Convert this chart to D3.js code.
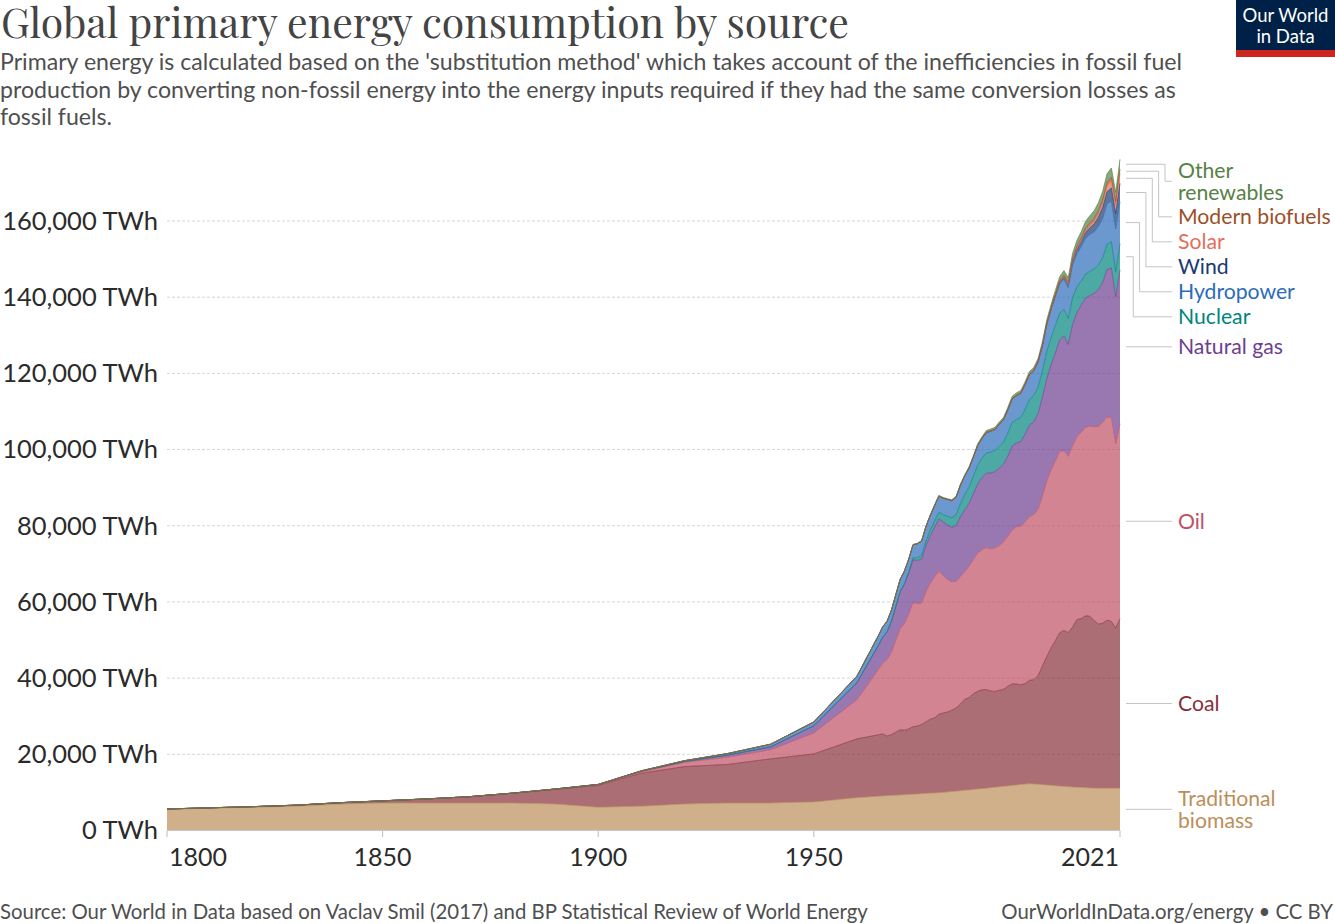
<!DOCTYPE html>
<html><head><meta charset="utf-8">
<script src="https://cdn.jsdelivr.net/npm/d3@7"></script>
<style>body{margin:0;background:#fff}svg{display:block}</style>
</head><body>
<svg id="chart" width="1335" height="924"></svg>
<script>
// ---------- DATA (TWh, substitution method) ----------
const years = [1800,1810,1820,1830,1840,1850,1860,1870,1880,1890,1900,1910,1920,1930,1940,1950,1960,
  1965,1966,1967,1968,1969,1970,1971,1972,1973,1974,1975,1976,1977,1978,1979,
  1980,1981,1982,1983,1984,1985,1986,1987,1988,1989,
  1990,1991,1992,1993,1994,1995,1996,1997,1998,1999,
  2000,2001,2002,2003,2004,2005,2006,2007,2008,2009,
  2010,2011,2012,2013,2014,2015,2016,2017,2018,2019,2020,2021];

const traditionalBiomass = [5556,5833,6111,6389,6944,7222,7222,7222,7222,6944,6111,6389,6944,7222,7222,7500,8611,
  9000,9070,9130,9200,9260,9330,9400,9460,9530,9600,9660,9730,9800,9860,9930,
  10000,10110,10220,10330,10440,10550,10660,10770,10880,10990,
  11100,11220,11340,11460,11580,11700,11820,11940,12060,12180,
  12300,12210,12120,12030,11940,11850,11760,11670,11580,11490,
  11400,11340,11280,11230,11170,11111,11111,11111,11111,11111,11111,11111];

const coal = [97,128,153,264,356,569,1061,1642,2542,3856,5728,8656,9833,10125,11586,12603,15442,
  16140,16280,15690,15970,16530,17110,16940,17190,17720,17800,18190,18780,19420,19720,20580,
  20860,21000,21360,21860,22750,23890,24220,25140,25670,25970,
  25890,25420,25170,25360,25500,26190,26690,26530,26170,26390,
  27110,27390,28500,31140,33640,36080,38060,40220,40940,40440,
  42000,44030,44330,45140,45080,44000,43060,43330,44110,43780,42060,44470];

const oil = [0,0,0,0,0,0,0,6,33,89,181,380,1100,1900,2400,5500,10300,
  17200,18600,20000,21700,24100,26500,28000,30100,32600,32100,31900,34200,35700,37000,37600,
  36100,34800,33700,33200,33500,33500,34500,35200,36300,36800,
  37300,37300,37700,38000,38700,39400,40400,41300,41600,42500,
  43000,43300,43700,44600,46100,46700,47200,47600,47200,46300,
  47600,48100,48900,49500,49900,50900,51900,52700,53300,53500,48400,51200];

const naturalGas = [0,0,0,0,0,0,0,0,0,0,64,142,250,550,750,1900,4469,
  6300,6800,7300,8000,8800,9600,10200,10700,11200,11400,11500,12100,12500,13000,13700,
  14000,14300,14300,14600,15700,16200,16500,17300,18100,18900,
  19500,19900,20000,20300,20400,21000,22000,21900,22300,23000,
  24000,24400,25100,25900,26900,27600,28300,29300,30100,29400,
  31900,32500,33400,33900,34300,35000,35900,36800,38700,39300,38500,40400];

const nuclear = [0,0,0,0,0,0,0,0,0,0,0,0,0,0,0,0,0,
  70,95,110,140,170,220,300,400,540,700,1000,1180,1420,1650,1720,
  1950,2300,2500,2850,3450,4050,4300,4620,4980,5100,
  5300,5500,5550,5720,5850,6050,6250,6200,6300,6550,
  6700,6900,6950,6850,7100,7100,7200,7000,6950,6850,
  7000,6700,6250,6250,6350,6400,6450,6500,6650,6900,6650,6900];

const hydropower = [0,0,0,0,0,0,0,0,0,0,20,100,200,400,700,1000,1700,
  2500,2650,2720,2830,2980,3100,3220,3330,3400,3680,3740,3790,3850,4080,4250,
  4320,4380,4500,4680,4800,4900,4960,5010,5180,5180,
  5350,5470,5470,5750,5800,6080,6150,6270,6330,6400,
  6520,6420,6540,6600,7000,7290,7580,7650,7950,8020,
  8540,8720,9070,9420,9660,9730,10140,10320,10670,10560,11150,11000];

const wind = [0,0,0,0,0,0,0,0,0,0,0,0,0,0,0,0,0,
  0,0,0,0,0,0,0,0,0,0,0,0,0,0,0,
  0,0,0,0,0,0,0,0,0,0,
  10,12,15,18,21,25,30,35,45,60,
  85,105,140,170,220,280,350,450,580,730,
  900,1150,1350,1600,1750,2100,2450,2850,3150,3500,4050,4800];

const solar = [0,0,0,0,0,0,0,0,0,0,0,0,0,0,0,0,0,
  0,0,0,0,0,0,0,0,0,0,0,0,0,0,0,
  0,0,0,0,0,0,0,0,0,0,
  1,1,1,1,1,2,2,2,2,2,
  3,4,5,7,8,11,15,20,33,50,
  85,170,260,360,500,650,840,1130,1450,1780,2150,2650];

const modernBiofuels = [0,0,0,0,0,0,0,0,0,0,0,0,0,0,0,0,0,
  0,0,0,0,0,0,0,0,0,0,0,0,0,0,0,
  0,0,0,0,0,0,0,0,0,0,
  80,85,85,90,95,100,100,105,105,105,
  110,120,140,165,190,225,320,410,530,600,
  690,700,700,760,830,880,900,950,1040,1100,1000,1060];

const otherRenewables = [0,0,0,0,0,0,0,0,0,0,0,0,0,0,0,0,0,
  60,65,70,75,80,90,100,110,120,130,140,150,165,180,190,
  200,220,240,260,290,320,340,360,390,420,
  460,480,500,510,530,560,580,600,620,640,
  670,690,720,760,820,890,950,1030,1120,1230,
  1380,1500,1620,1730,1850,1950,2050,2150,2250,2350,2450,2600];

const seriesNames = ["Traditional biomass","Coal","Oil","Natural gas","Nuclear","Hydropower","Wind","Solar","Modern biofuels","Other renewables"];
const seriesValues = [traditionalBiomass,coal,oil,naturalGas,nuclear,hydropower,wind,solar,modernBiofuels,otherRenewables];
const seriesColors = ["#BC8E5A","#883039","#C15065","#6D3E91","#00847E","#2C6CBB","#1B3A6E","#E56E5A","#9A5129","#578145"];
const labelLines = {"Other renewables":["Other","renewables"],"Traditional biomass":["Traditional","biomass"]};

const xTicks = [1800,1850,1900,1950,2021];
const yTicks = [0,20000,40000,60000,80000,100000,120000,140000,160000];

const title = "Global primary energy consumption by source";
const subtitle = ["Primary energy is calculated based on the 'substitution method' which takes account of the inefficiencies in fossil fuel",
  "production by converting non-fossil energy into the energy inputs required if they had the same conversion losses as",
  "fossil fuels."];
const sourceText = "Source: Our World in Data based on Vaclav Smil (2017) and BP Statistical Review of World Energy";
const licenseText = "OurWorldInData.org/energy • CC BY";

// ---------- LAYOUT ----------
const svg = d3.select("#chart");
const font = "Lato, 'Noto Sans', sans-serif";
const left = 167, right = 1120;
const x = d3.scaleLinear().domain([1800,2021]).range([left,right]);
const y = d3.scaleLinear().domain([0,160000]).range([830.5,221]);

function fit(sel, target){
  const w = sel.node().getComputedTextLength();
  const fs = parseFloat(sel.attr("font-size"));
  sel.attr("font-size", fs*target/w);
}

// Title + subtitle
svg.append("text").attr("x",1).attr("y",38).attr("font-family","'Playfair Display', 'Liberation Serif', 'DejaVu Serif', serif")
  .attr("font-size",42).attr("fill","#444").attr("textLength",848).attr("lengthAdjust","spacingAndGlyphs").text(title);
const subSel = subtitle.map((s,i)=> svg.append("text").attr("x",0).attr("y",70+i*27.5)
  .attr("font-family",font).attr("font-size",20).attr("fill","#4f4f4f").text(s));
const subW = subSel[0].node().getComputedTextLength();
const subFs = 20*1183/subW;
subSel.forEach(s=>s.attr("font-size",subFs));

// Logo
const logo = svg.append("g");
logo.append("rect").attr("x",1236).attr("y",0).attr("width",99).attr("height",57).attr("fill","#002147");
logo.append("rect").attr("x",1236).attr("y",50).attr("width",99).attr("height",7).attr("fill","#CE261E");
logo.append("text").attr("x",1285.5).attr("y",22).attr("text-anchor","middle").attr("font-family",font)
  .attr("font-size",18.5).attr("fill","#fff").text("Our World");
logo.append("text").attr("x",1285.5).attr("y",43).attr("text-anchor","middle").attr("font-family",font)
  .attr("font-size",18.5).attr("fill","#fff").text("in Data");

// Gridlines + y labels
const gy = svg.append("g");
yTicks.forEach(v=>{
  if(v>0){
    gy.append("line").attr("x1",left).attr("x2",right).attr("y1",y(v)).attr("y2",y(v))
      .attr("stroke","#d6d6d6").attr("stroke-width",1).attr("stroke-dasharray","3,2");
  }
  gy.append("text").attr("x",158).attr("y",y(v)).attr("dy","0.35em").attr("text-anchor","end")
    .attr("font-family",font).attr("font-size",25.5).attr("fill","#2b2b2b")
    .text(d3.format(",")(v)+" TWh");
});

// Stack
const rows = years.map((yr,i)=>{
  const r = {year:yr};
  seriesNames.forEach((n,k)=> r[n] = seriesValues[k][i]);
  return r;
});
const stacked = d3.stack().keys(seriesNames)(rows);
const area = d3.area().x(d=>x(d.data.year)).y0(d=>y(d[0])).y1(d=>y(d[1]));
const topLine = d3.line().x(d=>x(d.data.year)).y(d=>y(d[1]));

const ga = svg.append("g");
stacked.forEach((s,k)=>{
  ga.append("path").attr("d",area(s)).attr("fill",seriesColors[k]).attr("fill-opacity",0.7);
});
stacked.forEach((s,k)=>{
  ga.append("path").attr("d",topLine(s)).attr("fill","none").attr("stroke",seriesColors[k])
    .attr("stroke-width",0.9).attr("stroke-opacity",0.75);
});

// X axis
const gx = svg.append("g");
gx.append("line").attr("x1",left).attr("x2",right).attr("y1",830.5).attr("y2",830.5).attr("stroke","#c8c8c8");
xTicks.forEach((v,i)=>{
  gx.append("line").attr("x1",x(v)).attr("x2",x(v)).attr("y1",830.5).attr("y2",837).attr("stroke","#bdbdbd");
  const anchor = i===0 ? "start" : (i===xTicks.length-1 ? "end" : "middle");
  const xx = i===0 ? x(v)+2 : (i===xTicks.length-1 ? x(v)-1 : x(v));
  gx.append("text").attr("x",xx).attr("y",866).attr("text-anchor",anchor).attr("font-family",font)
    .attr("font-size",25).attr("fill","#2b2b2b").text(v);
});

// Right-side labels
const last = stacked.map(s=>s[s.length-1]);
const maxTop = d3.max(last, d=>d[1]);
let labels = seriesNames.map((n,k)=>({
  name:n, color:seriesColors[k], lines: labelLines[n] || [n],
  target: y((last[k][0]+last[k][1])/2)
}));
labels.forEach(l=> l.h = l.lines.length===1 ? 25 : 46);
labels.sort((a,b)=>a.target-b.target);
let prevBottom = y(maxTop)-1;
labels.forEach(l=>{
  const top = Math.max(l.target - l.h/2, prevBottom);
  l.center = top + l.h/2;
  prevBottom = top + l.h;
});
const gl = svg.append("g");
let moved = 0;
const lineGap = 21.5;
labels.forEach(l=>{
  const x0 = right+6, xEnd = 1172;
  if(Math.abs(l.center-l.target) < 1.5){
    gl.append("line").attr("x1",x0).attr("x2",xEnd).attr("y1",l.target).attr("y2",l.target)
      .attr("stroke","#c4c4c4").attr("stroke-width",1);
  } else {
    const ex = 1165 - moved*6.35; moved++;
    gl.append("path").attr("d",`M${x0},${l.target}H${ex}V${l.center}H${xEnd}`)
      .attr("fill","none").attr("stroke","#c4c4c4").attr("stroke-width",1);
  }
  const n = l.lines.length;
  const txt = gl.append("text").attr("font-family",font).attr("font-size",21.2).attr("fill",l.color)
    .attr("x",1178).attr("y", l.center - (n-1)/2*lineGap);
  l.lines.forEach((ln,j)=>{
    txt.append("tspan").attr("x",1178).attr("dy", j===0 ? "0.36em" : lineGap).text(ln);
  });
});

// Footer
const src = svg.append("text").attr("x",0).attr("y",919).attr("font-family",font).attr("font-size",19)
  .attr("fill","#4f4f4f").text(sourceText);
fit(src, 868);
svg.append("text").attr("x",1333).attr("y",919).attr("text-anchor","end").attr("font-family",font)
  .attr("font-size",parseFloat(src.attr("font-size"))).attr("fill","#4f4f4f").text(licenseText);
</script>
</body></html>
